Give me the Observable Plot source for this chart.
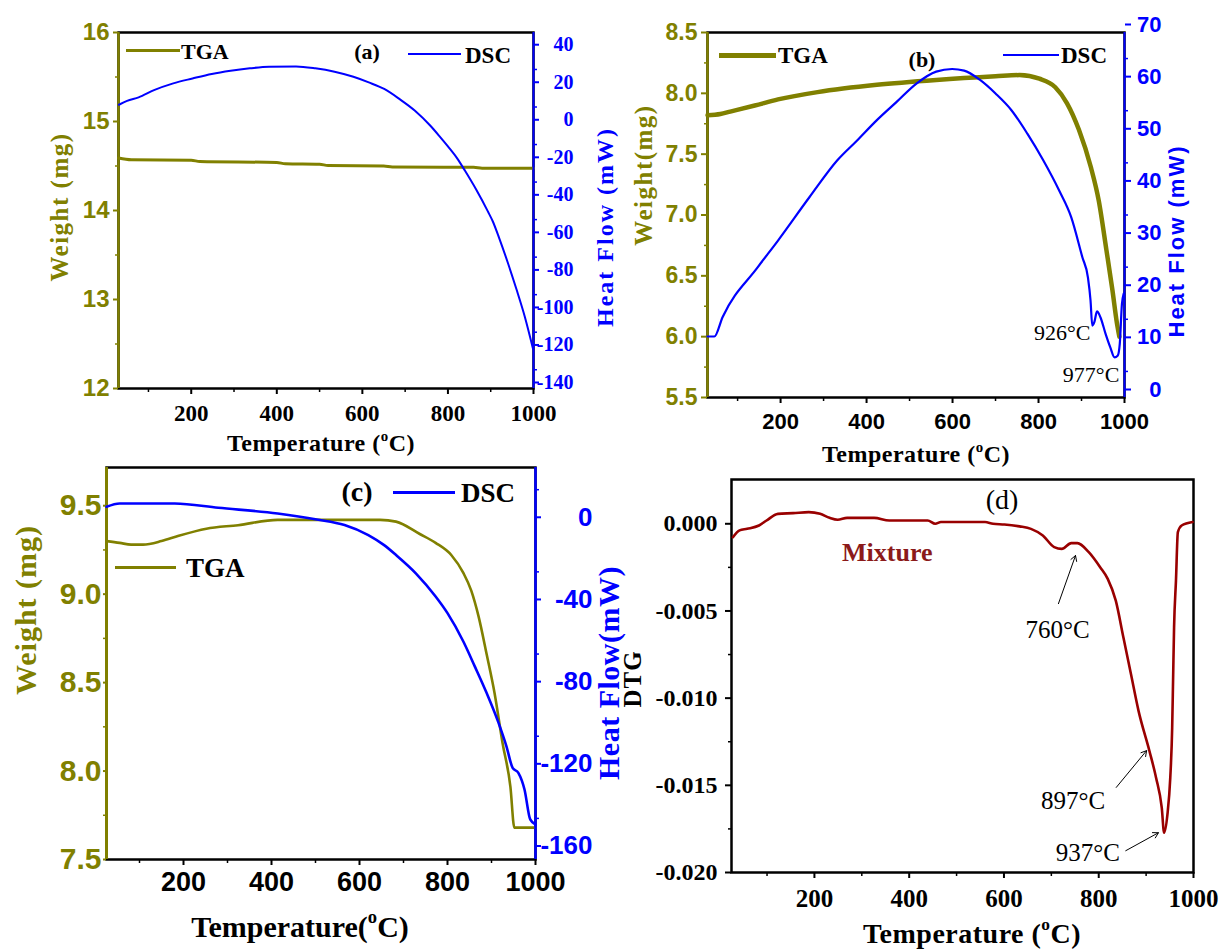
<!DOCTYPE html>
<html>
<head>
<meta charset="utf-8">
<script src="https://cdn.jsdelivr.net/npm/d3@7"></script>
<script src="https://cdn.jsdelivr.net/npm/@observablehq/plot@0.6"></script>
<style>
  html, body { margin: 0; padding: 0; background: #fff; }
  #fig { position: relative; width: 1220px; height: 950px; overflow: hidden; background: #fff; }
</style>
</head>
<body>
<div id="fig"></div>
<script>
// ---------------- DATA ----------------
// (a) TGA / DSC
const aTgaT = [30, 60, 200, 220, 400, 420, 500, 520, 650, 670, 860, 880, 1000];
const aTgaW = [14.59, 14.57, 14.565, 14.55, 14.54, 14.525, 14.52, 14.505, 14.50, 14.49, 14.485, 14.475, 14.475];
const aDscT = [31, 50, 77, 113, 158, 203, 248, 292, 337, 382, 445, 490, 535, 579, 615, 651, 687, 723, 759, 780, 800, 822, 840, 866, 893, 905, 920, 940, 960, 980, 999];
const aDscH = [11.2, 13.3, 15.1, 19, 22.6, 25.2, 27.6, 29.3, 30.6, 31.5, 31.6, 30.6, 28.8, 26.1, 23.1, 19.6, 14.2, 8, 0, -5.5, -11, -17.5, -24, -34, -45.5, -51, -60, -73, -87, -102, -119];

// (b) TGA / DSC
const bTgaT = [30, 60, 83, 140, 194, 286, 424, 562, 700, 756, 802, 839, 866, 894, 922, 940, 958, 972, 982, 988];
const bTgaW = [7.82, 7.83, 7.85, 7.90, 7.95, 8.01, 8.07, 8.11, 8.14, 8.15, 8.12, 8.05, 7.92, 7.70, 7.39, 7.12, 6.71, 6.38, 6.12, 6.0];
const bDscT = [30, 46, 65, 147, 194, 267, 332, 378, 424, 470, 516, 562, 599, 627, 664, 700, 737, 774, 811, 848, 876, 902, 915, 921, 925, 930, 936, 944, 956, 967, 977, 984, 989, 994, 998];
const bDscH = [11.7, 11.7, 15.4, 25, 30.1, 38.4, 45.5, 49.3, 53.2, 56.7, 60.2, 62.5, 63, 62.7, 60.9, 58.3, 55.1, 50.6, 45.5, 39.7, 34.6, 26.9, 23, 18.6, 13.8, 14.5, 16.5, 15.4, 12.2, 9.6, 7.7, 8, 10.3, 17.9, 19.9];
const bNoteT = [921, 988];
const bNoteH = [12.4, 4.4];
const bNoteText = ["926°C", "977°C"];

// (c) TGA / DSC
const cTgaT = [25, 55, 81, 108, 150, 189, 252, 324, 414, 503, 647, 683, 737, 773, 809, 836, 854, 871, 889, 907, 925, 943, 952, 960, 1000];
const cTgaW = [9.30, 9.29, 9.28, 9.28, 9.30, 9.33, 9.37, 9.39, 9.42, 9.42, 9.42, 9.41, 9.34, 9.29, 9.22, 9.12, 9.02, 8.87, 8.66, 8.44, 8.16, 7.91, 7.68, 7.68, 7.68];
const cDscT = [25, 55, 180, 279, 414, 503, 566, 620, 656, 683, 728, 773, 800, 836, 862, 889, 916, 934, 948, 961, 975, 988, 1000];
const cDscH = [11.7, 13.3, 13.3, 11.2, 8.4, 5.5, 2.8, -2.1, -7.0, -11.8, -20.7, -32, -40.1, -53.9, -66, -79, -93.5, -104.9, -115.4, -117.8, -125.9, -140.5, -143];

// (d) DTG
const dT = [28, 42, 58, 83, 99, 123, 155, 188, 212, 232, 249, 269, 326, 358, 439, 455, 467, 560, 577, 601, 633, 657, 682, 706, 722, 742, 755, 779, 803, 819, 836, 852, 868, 884, 907, 921, 933, 938, 945, 951, 955, 957, 959, 963, 967, 975, 998];
const dV = [-0.00077, -0.00038, -0.00029, -0.0001, 0.00019, 0.00057, 0.00061, 0.00067, 0.00057, 0.00034, 0.00023, 0.00034, 0.00034, 0.00019, 0.00019, 0, 0.0001, 0.0001, 0, -0.00004, -0.00015, -0.00029, -0.00067, -0.00134, -0.00144, -0.00111, -0.00111, -0.00163, -0.00249, -0.00316, -0.00441, -0.00651, -0.00862, -0.01073, -0.01303, -0.01456, -0.01628, -0.01772, -0.01667, -0.01456, -0.01169, -0.00881, -0.00594, -0.00326, -0.00048, -0.0001, 0.0001];
const dNoteT = [713, 746, 777];
const dNoteV = [-0.00612, -0.01589, -0.01888];
const dNoteText = ["760°C", "897°C", "937°C"];
const dArrowT1 = [715, 837, 857];
const dArrowV1 = [-0.00458, -0.01512, -0.01875];
const dArrowT2 = [751, 901, 926];
const dArrowV2 = [-0.00182, -0.01301, -0.01772];

// tick values
const xMajor = [200, 400, 600, 800, 1000];
const xMinor = [100, 300, 500, 700, 900];
const aLeftTicks = [12, 13, 14, 15, 16];
const aLeftMinor = [12.5, 13.5, 14.5, 15.5];
const aRightTicks = [-140, -120, -100, -80, -60, -40, -20, 0, 20, 40];
const aRightMinor = [-130, -110, -90, -70, -50, -30, -10, 10, 30];
const bLeftTicks = [5.5, 6.0, 6.5, 7.0, 7.5, 8.0, 8.5];
const bLeftMinor = [5.75, 6.25, 6.75, 7.25, 7.75, 8.25];
const bRightTicks = [0, 10, 20, 30, 40, 50, 60, 70];
const bRightMinor = [5, 15, 25, 35, 45, 55, 65];
const cLeftTicks = [7.5, 8.0, 8.5, 9.0, 9.5];
const cLeftMinor = [7.75, 8.25, 8.75, 9.25];
const cRightTicks = [-160, -120, -80, -40, 0];
const cRightMinor = [-140, -100, -60, -20, 20];
const dTicks = [-0.020, -0.015, -0.010, -0.005, 0.000];
const dMinor = [-0.0175, -0.0125, -0.0075, -0.0025];

// ---------------- STYLE ----------------
const OLIVE = "#808000", BLUE = "#0000ff", DRED = "#990000", MIXC = "#8b1a1a";
const SERIF = "'Liberation Serif','Times New Roman',serif";
const SANS = "'Liberation Sans',Arial,sans-serif";
const ML = 100, MR = 100, MT = 12, MB = 60;
const fig = document.getElementById("fig");

const rows = (T, V) => T.map((t, i) => ({t, v: V[i]}));

function layer(frame, xDomain, yDomain, marks, noX) {
  const [x0, y0, x1, y1] = frame;
  const svg = Plot.plot({
    width: x1 - x0 + ML + MR,
    height: y1 - y0 + MT + MB,
    marginLeft: ML, marginRight: MR, marginTop: MT, marginBottom: MB,
    x: noX ? {domain: xDomain, axis: null} : {domain: xDomain},
    y: {domain: yDomain},
    style: {background: "transparent", overflow: "visible"},
    marks
  });
  svg.style.position = "absolute";
  svg.style.left = (x0 - ML) + "px";
  svg.style.top = (y0 - MT) + "px";
  svg.style.maxWidth = "none";
  fig.appendChild(svg);
}

function txt(html, x, y, o = {}) {
  const d = document.createElement("div");
  d.innerHTML = html;
  const s = d.style;
  s.position = "absolute"; s.left = x + "px"; s.top = y + "px";
  s.whiteSpace = "nowrap"; s.lineHeight = "1";
  s.fontFamily = o.font || SERIF;
  s.fontWeight = o.weight || "bold";
  s.fontSize = (o.size || 22) + "px";
  s.color = o.color || "#000";
  if (o.spacing) s.letterSpacing = o.spacing + "px";
  const tx = o.anchor === "start" ? "0" : o.anchor === "end" ? "-100%" : "-50%";
  s.transform = `translate(${tx},-50%)` + (o.rotate ? " rotate(-90deg)" : "");
  fig.appendChild(d);
}
function hline(xa, xb, y, w, color) {
  const d = document.createElement("div");
  const s = d.style;
  s.position = "absolute"; s.left = xa + "px"; s.top = (y - w / 2) + "px";
  s.width = (xb - xa) + "px"; s.height = w + "px"; s.background = color;
  fig.appendChild(d);
}
const SUP = '<span style="font-size:0.62em;vertical-align:0.7em">o</span>';

const fmt1 = d => d.toFixed(1);
const fmtI = d => String(d);
const blank = () => "";

function xAxes(font, size, weight, pad) {
  return [
    Plot.axisX({ticks: xMajor, tickSize: 6, tickPadding: pad, tickFormat: fmtI, label: null,
      fontFamily: font, fontSize: size, fontWeight: weight, color: "#000", strokeWidth: 2}),
    Plot.axisX({ticks: xMinor, tickSize: 4, tickFormat: blank, label: null, color: "#000", strokeWidth: 1.5})
  ];
}

// ---------------- PANEL (a) ----------------
{
  const F = [118, 32, 533, 388], X = [30, 1000];
  layer(F, X, [12, 16], [
    Plot.frame({stroke: "#000", strokeWidth: 2.5}),
    Plot.ruleX([X[0]], {stroke: OLIVE, strokeWidth: 2.5}),
    Plot.axisY({ticks: aLeftTicks, tickSize: 5, tickPadding: 4, tickFormat: fmtI, label: null,
      fontFamily: SANS, fontSize: 24, fontWeight: "bold", color: OLIVE, strokeWidth: 2}),
    Plot.axisY({ticks: aLeftMinor, tickSize: 3, tickFormat: blank, label: null, color: OLIVE, strokeWidth: 1.5}),
    ...xAxes(SERIF, 23, "bold", 10),
    Plot.line(rows(aTgaT, aTgaW), {x: "t", y: "v", stroke: OLIVE, strokeWidth: 3, curve: "monotone-x"})
  ]);
  layer(F, X, [-140, 49.7], [
    Plot.ruleX([X[1]], {stroke: BLUE, strokeWidth: 2}),
    Plot.axisY({anchor: "right", ticks: aRightTicks, tickSize: 5, tickPadding: 35, textAnchor: "end", dy: -6,
      tickFormat: fmtI, label: null, fontFamily: SERIF, fontSize: 20, fontWeight: "bold", color: BLUE, strokeWidth: 2}),
    Plot.axisY({anchor: "right", ticks: aRightMinor, tickSize: 3, tickFormat: blank, label: null, color: BLUE, strokeWidth: 1.5}),
    Plot.line(rows(aDscT, aDscH), {x: "t", y: "v", stroke: BLUE, strokeWidth: 2, curve: "monotone-x"})
  ], true);
  txt("Weight (mg)", 59, 207, {size: 25, color: OLIVE, rotate: true, spacing: 1.5});
  txt("Heat Flow (mW)", 605, 227, {size: 24, color: BLUE, rotate: true, spacing: 2});
  txt("Temperature (" + SUP + "C)", 321, 442, {size: 24, spacing: 0.5});
  hline(126, 180, 50, 3, OLIVE);
  txt("TGA", 181, 52, {size: 22, anchor: "start"});
  txt("(a)", 367, 52, {size: 22});
  hline(408, 461, 54, 2.5, BLUE);
  txt("DSC", 465, 55, {size: 23, anchor: "start"});
}

// ---------------- PANEL (b) ----------------
{
  const F = [707, 32, 1124, 397], X = [30, 1000];
  layer(F, X, [5.5, 8.5], [
    Plot.frame({stroke: "#000", strokeWidth: 2.5}),
    Plot.ruleX([X[0]], {stroke: OLIVE, strokeWidth: 2.5}),
    Plot.axisY({ticks: bLeftTicks, tickSize: 6, tickPadding: 4, tickFormat: fmt1, label: null,
      fontFamily: SANS, fontSize: 23, fontWeight: "bold", color: OLIVE, strokeWidth: 2}),
    Plot.axisY({ticks: bLeftMinor, tickSize: 3, tickFormat: blank, label: null, color: OLIVE, strokeWidth: 1.5}),
    ...xAxes(SANS, 22, "bold", 10),
    Plot.line(rows(bTgaT, bTgaW), {x: "t", y: "v", stroke: OLIVE, strokeWidth: 4.5, curve: "monotone-x"})
  ]);
  layer(F, X, [0, 70], [
    Plot.ruleX([X[1]], {stroke: BLUE, strokeWidth: 2}),
    Plot.axisY({anchor: "right", ticks: bRightTicks, tickSize: 6, tickPadding: 31, textAnchor: "end", dy: -8,
      tickFormat: fmtI, label: null, fontFamily: SANS, fontSize: 22, fontWeight: "bold", color: BLUE, strokeWidth: 2}),
    Plot.axisY({anchor: "right", ticks: bRightMinor, tickSize: 3, tickFormat: blank, label: null, color: BLUE, strokeWidth: 1.5}),
    Plot.line(rows(bDscT, bDscH), {x: "t", y: "v", stroke: BLUE, strokeWidth: 2.2, curve: "monotone-x"}),
    Plot.text(bNoteT.map((t, i) => ({t, v: bNoteH[i], s: bNoteText[i]})),
      {x: "t", y: "v", text: "s", textAnchor: "end", fontFamily: SERIF, fontSize: 22, fill: "#000"})
  ], true);
  txt("Weight(mg)", 643, 175, {size: 25, color: OLIVE, rotate: true, spacing: 1.5});
  txt("Heat Flow (mW)", 1177, 241, {size: 22, font: SANS, color: BLUE, rotate: true, spacing: 2});
  txt("Temperature (" + SUP + "C)", 916, 453, {size: 24, spacing: 0.5});
  hline(719, 776, 55, 5, OLIVE);
  txt("TGA", 778, 55, {size: 23, anchor: "start"});
  txt("(b)", 922, 60, {size: 22});
  hline(1003, 1059, 55, 2.5, BLUE);
  txt("DSC", 1061, 55, {size: 23, anchor: "start"});
}

// ---------------- PANEL (c) ----------------
{
  const F = [106, 467, 535, 859], X = [25, 1000];
  layer(F, X, [7.5, 9.716], [
    Plot.frame({stroke: "#000", strokeWidth: 2.5}),
    Plot.ruleX([X[0]], {stroke: OLIVE, strokeWidth: 3}),
    Plot.axisY({ticks: cLeftTicks, tickSize: 3, tickPadding: 2, tickFormat: fmt1, label: null,
      fontFamily: SANS, fontSize: 30, fontWeight: "bold", color: OLIVE, strokeWidth: 2}),
    Plot.axisY({ticks: cLeftMinor, tickSize: 3, tickFormat: blank, label: null, color: OLIVE, strokeWidth: 1.5}),
    ...xAxes(SANS, 27, "bold", 6),
    Plot.line(rows(cTgaT, cTgaW), {x: "t", y: "v", stroke: OLIVE, strokeWidth: 2.6, curve: "monotone-x"})
  ]);
  layer(F, X, [-160, 30.8], [
    Plot.ruleX([X[1]], {stroke: BLUE, strokeWidth: 2.5}),
    Plot.axisY({anchor: "right", ticks: cRightTicks, tickSize: 5, tickPadding: 52, textAnchor: "end", dy: -13.5,
      tickFormat: fmtI, label: null, fontFamily: SANS, fontSize: 26, fontWeight: "bold", color: BLUE, strokeWidth: 2}),
    Plot.axisY({anchor: "right", ticks: cRightMinor, tickSize: 3, tickFormat: blank, label: null, color: BLUE, strokeWidth: 1.5}),
    Plot.line(rows(cDscT, cDscH), {x: "t", y: "v", stroke: BLUE, strokeWidth: 2.6, curve: "monotone-x"})
  ], true);
  txt("Weight (mg)", 26, 610, {size: 30, color: OLIVE, rotate: true, spacing: 1});
  txt("Heat Flow(mW)", 609, 673, {size: 30, color: BLUE, rotate: true, spacing: 0.5});
  txt("Temperature(" + SUP + "C)", 300, 925, {size: 30});
  txt("(c)", 357, 492, {size: 28});
  hline(393, 455, 492, 3, BLUE);
  txt("DSC", 461, 493, {size: 27, anchor: "start"});
  hline(115, 176, 567, 3, OLIVE);
  txt("TGA", 186, 568, {size: 27, anchor: "start"});
}

// ---------------- PANEL (d) ----------------
{
  const F = [731, 479, 1193, 872], X = [25, 1000];
  layer(F, X, [-0.020, 0.00254], [
    Plot.frame({stroke: "#000", strokeWidth: 2.5}),
    Plot.axisY({ticks: dTicks, tickSize: 6, tickPadding: 8, tickFormat: d => d.toFixed(3), label: null,
      fontFamily: SERIF, fontSize: 24, fontWeight: "bold", color: "#000", strokeWidth: 2}),
    Plot.axisY({ticks: dMinor, tickSize: 3, tickFormat: blank, label: null, color: "#000", strokeWidth: 1.5}),
    ...xAxes(SERIF, 25, "bold", 11),
    Plot.line(rows(dT, dV), {x: "t", y: "v", stroke: DRED, strokeWidth: 2.6, curve: "monotone-x"}),
    Plot.arrow(dArrowT1.map((t, i) => ({x1: t, y1: dArrowV1[i], x2: dArrowT2[i], y2: dArrowV2[i]})),
      {x1: "x1", y1: "y1", x2: "x2", y2: "y2", stroke: "#000", strokeWidth: 1, headLength: 9}),
    Plot.text(dNoteT.map((t, i) => ({t, v: dNoteV[i], s: dNoteText[i]})),
      {x: "t", y: "v", text: "s", fontFamily: SERIF, fontSize: 25, fill: "#000"})
  ]);
  txt("DTG", 632, 679, {size: 25, rotate: true, spacing: 1});
  txt("Temperature (" + SUP + "C)", 972, 932, {size: 28, spacing: 0.5});
  txt("(d)", 1002, 500, {size: 28, weight: "normal"});
  txt("Mixture", 842, 553, {size: 26, color: MIXC, anchor: "start"});
}
</script>
</body>
</html>
